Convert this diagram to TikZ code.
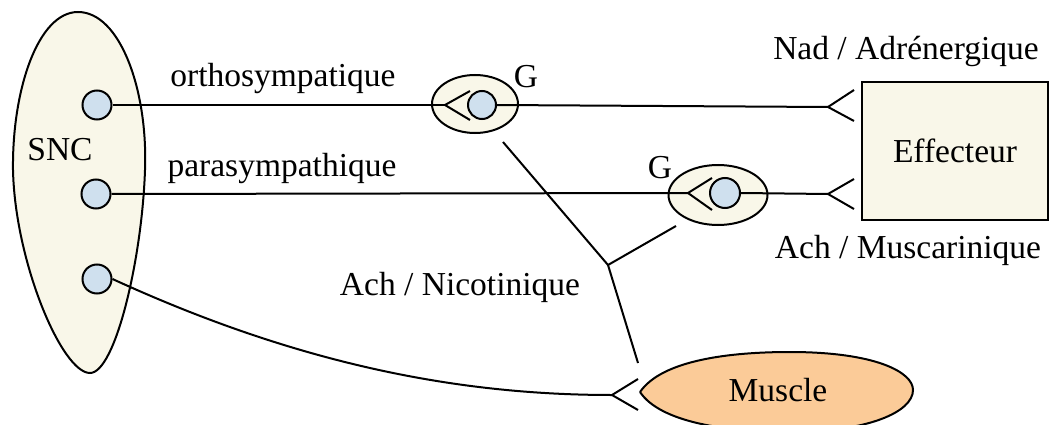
\documentclass[tikz,border=0pt]{standalone}
\usepackage{fontspec}
\setmainfont{Liberation Serif}
\usetikzlibrary{shapes.geometric}
\definecolor{cream}{HTML}{F9F7E9}
\definecolor{dotblue}{HTML}{CFE0EE}
\definecolor{muscleorange}{HTML}{FBCB98}
\tikzset{
  lbl/.style={font=\fontsize{33.5}{38}\selectfont, inner sep=0pt},
  dot/.style={circle, draw=black, line width=2pt, fill=dotblue, minimum size=29pt, inner sep=0pt},
  gang/.style={ellipse, draw=black, line width=2pt, fill=cream, inner sep=0pt},
  wire/.style={line width=2pt},
}
\begin{document}
\begin{tikzpicture}[x=1pt,y=-1pt]
\useasboundingbox (0,0) rectangle (1049,425);
% SNC
\draw[line width=2pt, fill=cream] (78,12) .. controls (120,12) and (148,90) .. (145,170)
  .. controls (142,260) and (115,373) .. (90,373)
  .. controls (62,373) and (15,262) .. (13,170)
  .. controls (12,90) and (38,12) .. (78,12);
\node[lbl] (snc) at (60,150) {SNC};
\node[dot] (d1) at (97,105) {};
\node[dot] (d2) at (96,194) {};
\node[dot] (d3) at (97,279) {};
% ganglia
\node[gang, minimum width=86pt, minimum height=58pt] (g1) at (475,104) {};
\node[gang, minimum width=99pt, minimum height=60pt] (g2) at (718,195) {};
\node[dot, minimum size=28pt] (c1) at (482,105) {};
\node[dot, minimum size=30pt] (c2) at (725,193) {};
\node[lbl] (gl1) at (526,77) {G};
\node[lbl] (gl2) at (660,168) {G};
% effector
\node[draw=black, line width=2pt, fill=cream, minimum width=186pt, minimum height=138pt, inner sep=0pt] (eff) at (955,151) {};
\node[lbl] at (eff.center) {Effecteur};
% muscle
\draw[line width=2pt, fill=muscleorange] (640,392) .. controls (662,360) and (730,352) .. (790,352)
  .. controls (875,352) and (913,372) .. (913,390)
  .. controls (913,412) and (868,432) .. (790,432)
  .. controls (725,432) and (660,422) .. (640,392);
\node[lbl] (mus) at (778,390) {Muscle};
% synapse coordinates
\coordinate (s1) at (445,105);
\coordinate (s2) at (688,193);
\coordinate (s3) at (828,107);
\coordinate (s4) at (828,194);
\coordinate (s5) at (612,395);
% synapse marks
\draw[wire] (470,91) -- (s1) -- (470,120);
\draw[wire] (712,178) -- (s2) -- (712,210);
\draw[wire] (854,90) -- (s3) -- (854,121);
\draw[wire] (854,179) -- (s4) -- (854,209);
\draw[wire] (638,379) -- (s5) -- (638,410);
% connectors
\draw[wire] (d1.east) -- (s1);
\draw[wire] (c1.east) -- (s3);
\draw[wire] (d2.east) -- (s2);
\draw[wire] (c2.east) -- (s4);
\draw[wire] (d3.east) .. controls (300,365) and (460,395) .. (s5);
% nicotinic branch
\coordinate (j) at (608,265);
\coordinate (b1) at (503,142);
\coordinate (b2) at (676,226);
\coordinate (b3) at (638,363);
\draw[wire] (b1) -- (j) -- (b3);
\draw[wire] (j) -- (b2);
% labels
\node[lbl] (lo) at (283,78) {orthosympatique};
\node[lbl] (lp) at (282,168) {parasympathique};
\node[lbl] (ln) at (460,287) {Ach / Nicotinique};
\node[lbl] (la) at (906,51) {Nad / Adrénergique};
\node[lbl] (lm) at (908,250) {Ach / Muscarinique};
\end{tikzpicture}
\end{document}
